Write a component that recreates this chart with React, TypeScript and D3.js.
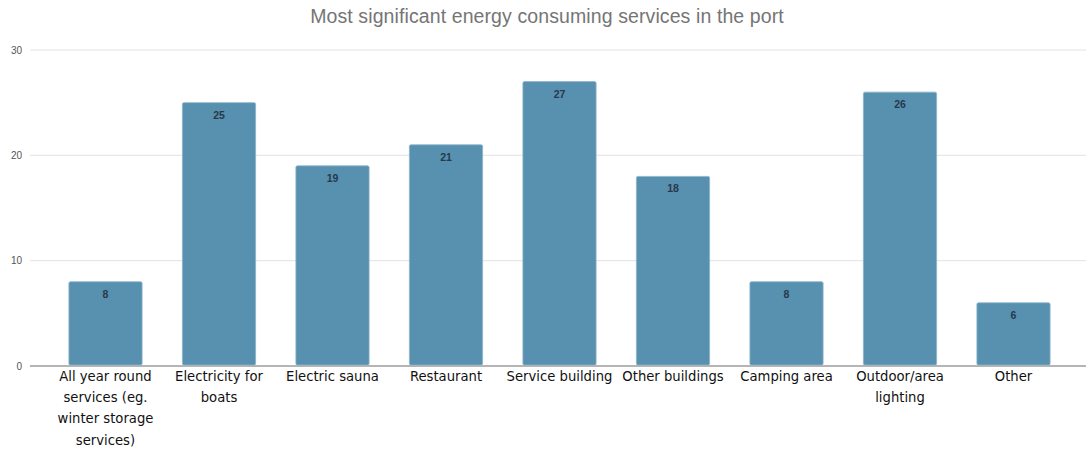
import React from "react";
import * as d3 from "d3";

const categories = [
  "All year round services (eg. winter storage services)",
  "Electricity for boats",
  "Electric sauna",
  "Restaurant",
  "Service building",
  "Other buildings",
  "Camping area",
  "Outdoor/area lighting",
  "Other",
];
const categoryLines: string[][] = [
  ["All year round", "services (eg.", "winter storage", "services)"],
  ["Electricity for", "boats"],
  ["Electric sauna"],
  ["Restaurant"],
  ["Service building"],
  ["Other buildings"],
  ["Camping area"],
  ["Outdoor/area", "lighting"],
  ["Other"],
];
const values = [8, 25, 19, 21, 27, 18, 8, 26, 6];
const yTicks = [0, 10, 20, 30];
const title = "Most significant energy consuming services in the port";

const W = 1086;
const H = 450;

export default function App() {
  const x = d3
    .scaleBand<string>()
    .domain(categories)
    .range([48.75, 1070.25])
    .paddingInner(0.355)
    .paddingOuter(0.1775);
  const y = d3.scaleLinear().domain([0, 30]).range([366, 50]);
  const gridX0 = 30;
  const gridX1 = 1086;
  return (
    <svg
      width={W}
      height={H}
      style={{ position: "absolute", left: 0, top: 0, background: "#fff" }}
    >
      <text
        x={547}
        y={23}
        textAnchor="middle"
        fontFamily="'Liberation Sans', Arial, sans-serif"
        fontSize={19.5}
        letterSpacing={0.1}
        fill="#757575"
      >
        {title}
      </text>
      {yTicks.map((t) => (
        <g key={t}>
          <line
            x1={gridX0}
            x2={gridX1}
            y1={y(t)}
            y2={y(t)}
            stroke={t === 0 ? "#b5b5b5" : "#e2e2e2"}
            strokeWidth={t === 0 ? 2 : 1}
          />
          <text
            x={22}
            y={y(t) + 3.5}
            textAnchor="end"
            fontFamily="'Liberation Sans', Arial, sans-serif"
            fontSize={10}
            fill="#555"
          >
            {t}
          </text>
        </g>
      ))}
      {categories.map((c, i) => {
        const bx = x(c)!;
        const bw = x.bandwidth();
        const top = y(values[i]);
        return (
          <g key={c}>
            <rect
              x={bx}
              y={top}
              width={bw}
              height={y(0) - top - 1}
              fill="#5890b0"
              stroke="#8bb4cc"
              strokeWidth={0.8}
              rx={1.5}
            />
            <text
              x={bx + bw / 2}
              y={top + 16}
              textAnchor="middle"
              fontFamily="'Liberation Sans', Arial, sans-serif"
              fontWeight="bold"
              fontSize={10.5}
              fill="#27394a"
            >
              {values[i]}
            </text>
            {categoryLines[i].map((ln, k) => (
              <text
                key={k}
                x={bx + bw / 2}
                y={381 + k * 21.2}
                textAnchor="middle"
                fontFamily="Verdana, 'DejaVu Sans', sans-serif"
                fontSize={13.2}
                fill="#111"
              >
                {ln}
              </text>
            ))}
          </g>
        );
      })}
    </svg>
  );
}
